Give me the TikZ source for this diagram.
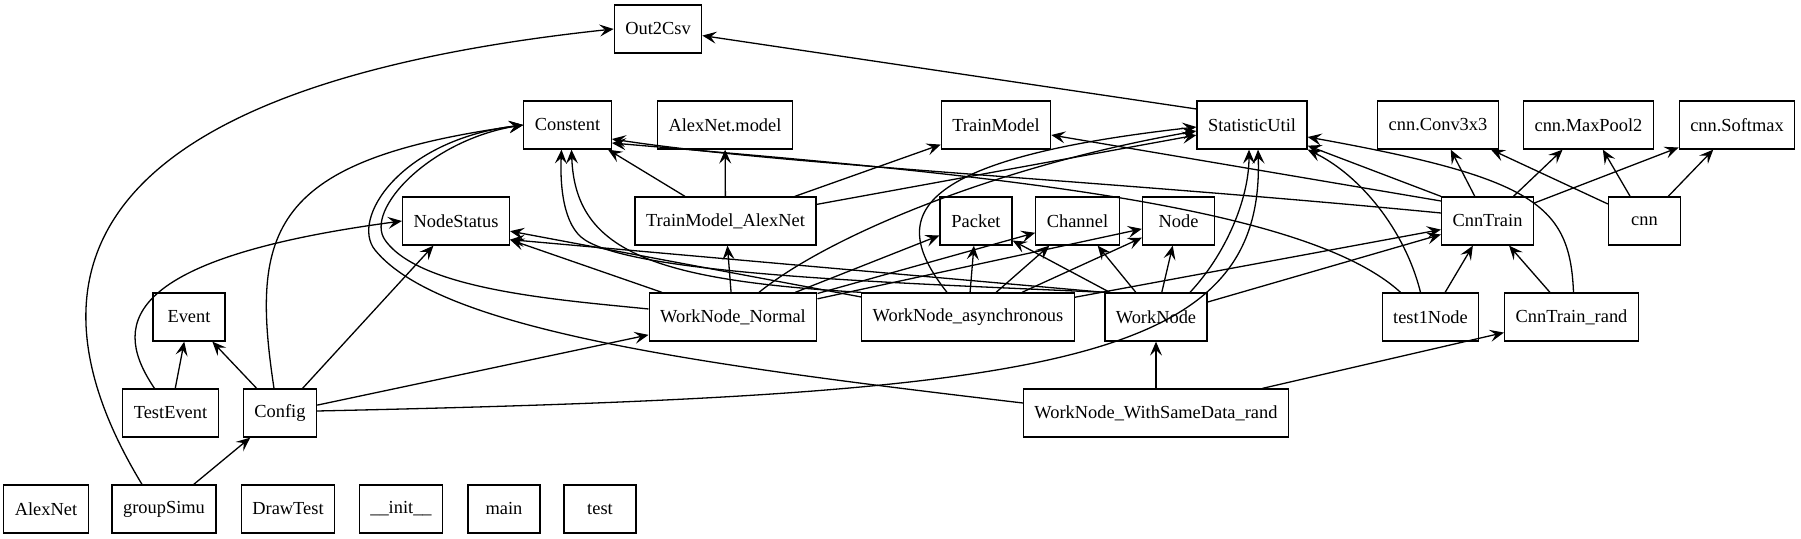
\documentclass[tikz,border=0pt]{standalone}
\usepackage{fontspec}
\setmainfont{Liberation Serif}
\usetikzlibrary{arrows.meta}
\begin{document}
\begin{tikzpicture}[x=0.5pt, y=-0.5pt, line width=0.65pt,
    >={Stealth[length=7pt,width=6pt,inset=2.8pt]},
    every node/.style={draw, rectangle, minimum width=36pt, minimum height=24pt,
      inner xsep=5.5pt, font=\rmfamily\fontsize{9.2pt}{11pt}\selectfont}]
  \useasboundingbox (0,0) rectangle (1801,539);
  \draw
    (658,29) node (Out2Csv){Out2Csv}
    (567.5,125) node (Constent){Constent}
    (725,125) node (AlexNetModel){AlexNet.model}
    (996,125) node (TrainModel){TrainModel}
    (1252,125) node (StatisticUtil){StatisticUtil}
    (1438,125) node (cnnConv){cnn.Conv3x3}
    (1588.5,125) node (cnnMaxPool){cnn.MaxPool2}
    (1737,125) node (cnnSoftmax){cnn.Softmax}
    (456,221) node (NodeStatus){NodeStatus}
    (725.5,221) node (TMAlexNet){TrainModel\_AlexNet}
    (976,221) node (Packet){Packet}
    (1077.5,221) node (Channel){Channel}
    (1178.5,221) node (Node){Node}
    (1487.5,221) node (CnnTrain){CnnTrain}
    (1644.5,221) node (cnn){cnn}
    (189,317) node (Event){Event}
    (733,317) node (WNNormal){WorkNode\_Normal}
    (968,317) node (WNAsync){WorkNode\_asynchronous}
    (1156,317) node (WorkNode){WorkNode}
    (1430.5,317) node (test1Node){test1Node}
    (1571.5,317) node (CnnTrainRand){CnnTrain\_rand}
    (170.5,413) node (TestEvent){TestEvent}
    (280,413) node (Config){Config}
    (1156,413) node (WNSameRand){WorkNode\_WithSameData\_rand}
    (46,509) node (AlexNet){AlexNet}
    (164,509) node (groupSimu){groupSimu}
    (288,509) node (DrawTest){DrawTest}
    (401,509) node (init){\_\_init\_\_}
    (504,509) node (main){main}
    (600,509) node (test){test};
  \begin{scope}[->]
    % groupSimu, TestEvent, Config
    \draw ([xshift=-11pt]groupSimu.north) .. controls (30,300) and (40,90) .. (Out2Csv.west);
    \draw (groupSimu) to (Config);
    \draw (TestEvent) to (Event);
    \draw ([xshift=-8pt]TestEvent.north) .. controls (115,330) and (110,260) .. (NodeStatus.west);
    \draw (Config) to (Event);
    \draw ([xshift=-3pt]Config.north) .. controls (250,230) and (270,160) .. (Constent.west);
    \draw (Config) to (NodeStatus);
    \draw (Config) to (WNNormal);
    \draw ([yshift=1pt]Config.east) .. controls (1050,395) and (1265,365) .. ([xshift=3pt]StatisticUtil.south);
    % WorkNode_WithSameData_rand
    \draw ([yshift=5pt]WNSameRand.west) .. controls (700,365) and (440,330) .. (375,250)
      .. controls (350,219) and (400,140) .. (Constent.west);
    \draw (WNSameRand) to (WorkNode);
    \draw (WNSameRand) to (CnnTrainRand);
    % TrainModel_AlexNet
    \draw (TMAlexNet) to (Constent);
    \draw (TMAlexNet) to (AlexNetModel);
    \draw (TMAlexNet) to (TrainModel);
    \draw (TMAlexNet) to (StatisticUtil);
    % WorkNode_Normal
    \draw ([yshift=4pt]WNNormal.west) .. controls (560,300) and (420,290) .. (385,240)
      .. controls (364,210) and (430,140) .. (Constent.west);
    \draw (WNNormal) to (TMAlexNet);
    \draw (WNNormal) to (NodeStatus);
    \draw (WNNormal) to (Packet);
    \draw (WNNormal) to (Channel);
    \draw (WNNormal) to (Node);
    \draw ([xshift=13pt]WNNormal.north) .. controls (830,235) and (1000,165) .. ([yshift=-3pt]StatisticUtil.west);
    % WorkNode_asynchronous
    \draw (WNAsync.north west) .. controls (650,280) and (575,250) .. ([xshift=2pt]Constent.south);
    \draw (WNAsync) to (NodeStatus);
    \draw (WNAsync) to (Packet);
    \draw (WNAsync) to (Channel);
    \draw (WNAsync) to (Node);
    \draw ([xshift=-10.5pt]WNAsync.north) .. controls (890,220) and (900,160) .. ([yshift=-1pt]StatisticUtil.west);
    \draw (WNAsync) to (CnnTrain);
    % WorkNode
    \draw (WorkNode.north west) .. controls (900,283) and (640,275) .. (585,240)
      .. controls (563,226) and (560,185) .. ([xshift=-3pt]Constent.south);
    \draw (WorkNode.north west) to ([yshift=3pt]NodeStatus.south east);
    \draw (WorkNode) to (Packet);
    \draw (WorkNode) to (Channel);
    \draw (WorkNode) to (Node);
    \draw ([xshift=17pt]WorkNode.north) .. controls (1225,255) and (1249,200) .. ([xshift=-1.5pt]StatisticUtil.south);
    \draw (WorkNode) to (CnnTrain);
    % test1Node
    \draw ([xshift=-15pt]test1Node.north) .. controls (1300,200) and (950,172) .. ([yshift=-9pt]Constent.east);
    \draw (test1Node) to (CnnTrain);
    \draw ([xshift=-5pt]test1Node.north) .. controls (1405,230) and (1360,175) .. (StatisticUtil.south east);
    % CnnTrain
    \draw ([yshift=4pt]CnnTrain.west) .. controls (1100,180) and (780,165) .. ([yshift=-7pt]Constent.east);
    \draw ([yshift=10pt]CnnTrain.west) to ([yshift=-5pt]TrainModel.east);
    \draw (CnnTrain.north west) to ([yshift=2pt]StatisticUtil.south east);
    \draw (CnnTrain) to (cnnConv);
    \draw (CnnTrain) to (cnnMaxPool);
    \draw (CnnTrain) to (cnnSoftmax);
    % cnn
    \draw (cnn) to (cnnConv);
    \draw (cnn) to (cnnMaxPool);
    \draw (cnn) to (cnnSoftmax);
    % CnnTrain_rand
    \draw (CnnTrainRand) to (CnnTrain);
    \draw ([xshift=1pt]CnnTrainRand.north) .. controls (1570,205) and (1535,178) .. ([yshift=-6pt]StatisticUtil.east);
    % StatisticUtil
    \draw ([yshift=8pt]StatisticUtil.west) to (Out2Csv);
  \end{scope}
\end{tikzpicture}
\end{document}
